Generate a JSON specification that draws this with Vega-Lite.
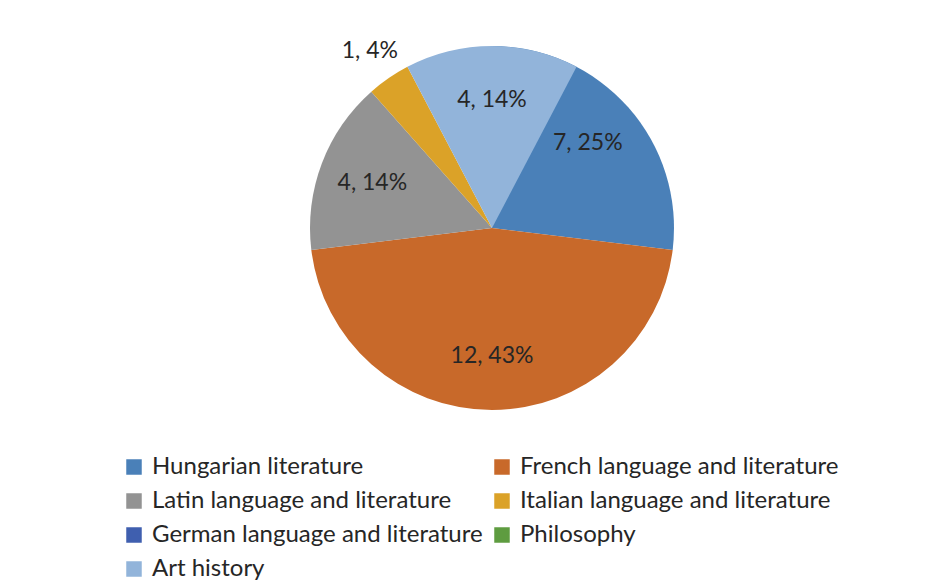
{
  "$schema": "https://vega.github.io/schema/vega-lite/v6.json",
  "width": 364,
  "height": 364,
  "autosize": {"type": "none"},
  "padding": {"left": 310, "top": 46, "right": 270, "bottom": 174},
  "background": "white",
  "config": {"view": {"stroke": null}, "font": "Lato"},
  "data": {
    "values": [
      {"idx": 1, "subject": "Hungarian literature", "count": 7, "label": "7, 25%"},
      {"idx": 2, "subject": "French language and literature", "count": 12, "label": "12, 43%"},
      {"idx": 3, "subject": "Latin language and literature", "count": 4, "label": "4, 14%"},
      {"idx": 4, "subject": "Italian language and literature", "count": 1, "label": "1, 4%"},
      {"idx": 5, "subject": "German language and literature", "count": 0, "label": ""},
      {"idx": 6, "subject": "Philosophy", "count": 0, "label": ""},
      {"idx": 7, "subject": "Art history", "count": 4, "label": "4, 14%"}
    ]
  },
  "transform": [
    {"stack": "count", "groupby": [], "sort": [{"field": "idx", "order": "ascending"}], "as": ["t0", "t1"]},
    {"calculate": "(datum.t0 + datum.t1) / 2", "as": "mid"}
  ],
  "layer": [
    {
      "mark": {"type": "arc"},
      "encoding": {
        "theta": {"field": "t0", "type": "quantitative", "stack": null},
        "theta2": {"field": "t1"},
        "color": {
          "field": "subject",
          "type": "nominal",
          "scale": {
            "domain": ["Hungarian literature", "French language and literature", "Latin language and literature", "Italian language and literature", "German language and literature", "Philosophy", "Art history"],
            "range": ["#4A80B8", "#C8692A", "#939393", "#DBA228", "#3F5FAF", "#5E9C40", "#92B4DA"]
          },
          "legend": {
            "orient": "none",
            "direction": "horizontal",
            "legendX": -188,
            "legendY": 409,
            "columns": 2,
            "title": null,
            "symbolType": "square",
            "symbolSize": 240,
            "symbolStrokeWidth": 0,
            "labelFontSize": 24,
            "labelFont": "Lato",
            "labelColor": "#262626",
            "rowPadding": 10,
            "columnPadding": 7,
            "labelOffset": 6,
            "padding": 0,
            "labelLimit": 500
          }
        }
      }
    },
    {
      "transform": [{"filter": "datum.count > 1"}],
      "mark": {"type": "text", "radius": 128, "fontSize": 23, "color": "#262626", "font": "Lato"},
      "encoding": {
        "theta": {"field": "mid", "type": "quantitative", "stack": null},
        "text": {"field": "label", "type": "nominal"}
      }
    },
    {
      "transform": [{"filter": "datum.count == 1"}],
      "mark": {"type": "text", "radius": 215, "fontSize": 23, "color": "#262626", "font": "Lato"},
      "encoding": {
        "theta": {"field": "mid", "type": "quantitative", "stack": null},
        "text": {"field": "label", "type": "nominal"}
      }
    }
  ]
}
